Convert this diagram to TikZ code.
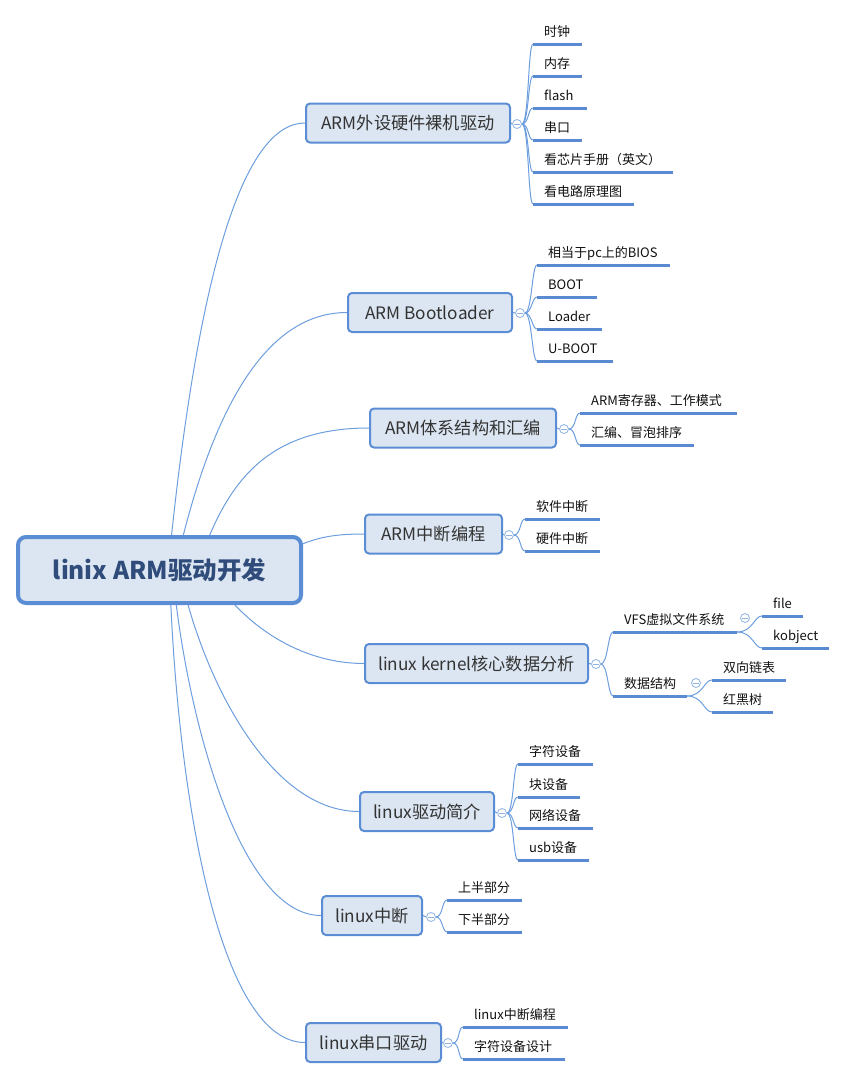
\documentclass[tikz,border=0pt]{standalone}
\usepackage{fontspec}
\setmainfont{Noto Sans CJK SC}
\usetikzlibrary{calc,backgrounds}
\definecolor{boxfill}{HTML}{DCE6F2}
\definecolor{boxline}{HTML}{5B8DD5}
\definecolor{connline}{HTML}{6D9EDD}
\definecolor{ulinecol}{HTML}{5A8AD2}
\definecolor{rootText}{HTML}{2F4C7A}
\definecolor{brText}{HTML}{333333}
\definecolor{leafText}{HTML}{111111}
\definecolor{knobcol}{HTML}{8FB3E3}
\newcommand\leafitem[5]{%
  \coordinate (#1a) at (#2,#4);
  \coordinate (#1b) at (#3,#4);
  \draw[uline] (#1a) -- (#1b);
  \node[leaftext] (#1) at ($(#1a)+(11,-8)$) {#5};}
\newcommand\leafconn[2]{%
  \draw[conn] (#1) .. controls ($(#1)+(7,0)$) and ($(#2)+(-5,0)$) .. (#2);}
\newcommand\subconn[2]{%
  \draw[conn] (#1) .. controls ($(#1)+(16,0)$) and ($(#2)+(-8,0)$) .. (#2);}
\tikzset{
  rootbox/.style={draw=boxline, line width=4pt, fill=boxfill, rounded corners=8pt,
    minimum width=283pt, minimum height=66pt, inner sep=0pt, text=rootText,
    font=\fontsize{24.5}{28}\selectfont\bfseries},
  brbox/.style={draw=boxline, line width=2pt, fill=boxfill, rounded corners=4pt,
    minimum height=39pt, inner sep=0pt, text=brText,
    font=\fontsize{17.2}{20}\selectfont},
  leaftext/.style={anchor=base west, inner sep=0pt, text=leafText,
    font=\fontsize{13}{15}\selectfont},
  uline/.style={draw=ulinecol, line width=3pt},
  conn/.style={draw=connline, line width=1pt},
  knob/.style={circle, draw=knobcol, fill=white, line width=0.8pt, minimum size=9pt,
    inner sep=0pt,
    path picture={\draw[knobcol, line width=0.8pt]
      ([xshift=-2.6pt]path picture bounding box.center) --
      ([xshift=2.6pt]path picture bounding box.center);}},
}
\begin{document}
\begin{tikzpicture}[x=1pt,y=-1pt]
\useasboundingbox (0,0) rectangle (847,1080);
% root
\node[rootbox] (root) at (159.5,570) {linix ARM驱动开发};
% branches
\node[brbox, minimum width=204pt] (b1) at (408,123) {ARM外设硬件裸机驱动};
\node[brbox, minimum width=164pt] (b2) at (430,312.5) {ARM Bootloader};
\node[brbox, minimum width=186pt] (b3) at (463,428) {ARM体系结构和汇编};
\node[brbox, minimum width=137pt] (b4) at (433.5,534) {ARM中断编程};
\node[brbox, minimum width=223pt] (b5) at (476.5,663.5) {linux kernel核心数据分析};
\node[brbox, minimum width=134pt] (b6) at (427,811.5) {linux驱动简介};
\node[brbox, minimum width=100pt] (b7) at (372,915.5) {linux中断};
\node[brbox, minimum width=135pt] (b8) at (373.5,1042.5) {linux串口驱动};
% knobs
\node[knob] (k1) at (517,124) {};
\node[knob] (k2) at (520,313) {};
\node[knob] (k3) at (564,429) {};
\node[knob] (k4) at (509,535) {};
\node[knob] (k5) at (596,664) {};
\node[knob] (k6) at (502,813) {};
\node[knob] (k7) at (431,917) {};
\node[knob] (k8) at (448,1043) {};
\node[knob] (k51) at (745,618) {};
\node[knob] (k52) at (696,683) {};
% leaves branch 1
\leafitem{l11}{533}{582}{44}{时钟}
\leafitem{l12}{533}{582}{76}{内存}
\leafitem{l13}{533}{587}{108}{flash}
\leafitem{l14}{533}{582}{140}{串口}
\leafitem{l15}{533}{673}{172}{看芯片手册（英文）}
\leafitem{l16}{533}{634}{204}{看电路原理图}
% branch 2
\leafitem{l21}{537}{670}{265}{相当于pc上的BIOS}
\leafitem{l22}{537}{597}{297}{BOOT}
\leafitem{l23}{537}{602}{329}{Loader}
\leafitem{l24}{537}{613}{361}{U-BOOT}
% branch 3
\leafitem{l31}{580}{737}{413}{ARM寄存器、工作模式}
\leafitem{l32}{580}{694}{445}{汇编、冒泡排序}
% branch 4
\leafitem{l41}{525}{600}{519}{软件中断}
\leafitem{l42}{525}{600}{551}{硬件中断}
% branch 5
\leafitem{l51}{613}{737}{632}{VFS虚拟文件系统}
\leafitem{l52}{613}{687}{696}{数据结构}
\leafitem{l511}{762}{803}{616}{file}
\leafitem{l512}{762}{829}{648}{kobject}
\leafitem{l521}{712}{786}{680}{双向链表}
\leafitem{l522}{712}{773}{712}{红黑树}
% branch 6
\leafitem{l61}{518}{593}{764}{字符设备}
\leafitem{l62}{518}{580}{797}{块设备}
\leafitem{l63}{518}{593}{828}{网络设备}
\leafitem{l64}{518}{589}{860}{usb设备}
% branch 7
\leafitem{l71}{447}{522}{900}{上半部分}
\leafitem{l72}{447}{522}{932}{下半部分}
% branch 8
\leafitem{l81}{463}{568}{1027}{linux中断编程}
\leafitem{l82}{463}{565}{1059}{字符设备设计}
% connectors
\begin{scope}[on background layer]
\coordinate (s1) at (168,570);
\coordinate (s2) at (175,570);
\coordinate (s3) at (200,560);
\coordinate (s4) at (280,555);
\coordinate (s5) at (215,580);
\coordinate (s6) at (183,585);
\coordinate (s7) at (174,585);
\coordinate (s8) at (170,585);
\draw[conn] (s1) .. controls (197,273) and (243,123) .. (b1.west);
\draw[conn] (s2) .. controls (213,399) and (270,312.5) .. (b2.west);
\draw[conn] (s3) .. controls (226,488) and (262,428) .. (b3.west);
\draw[conn] (s4) .. controls (310,538) and (330,534) .. (b4.west);
\draw[conn] (s5) .. controls (245,625) and (300,663.5) .. (b5.west);
\draw[conn] (s6) .. controls (205,680) and (270,811.5) .. (b6.west);
\draw[conn] (s7) .. controls (188,720) and (240,915.5) .. (b7.west);
\draw[conn] (s8) .. controls (178,800) and (220,1042.5) .. (b8.west);
\foreach \i in {1,...,8} {\draw[conn] (b\i.east) -- (k\i.west);}
\foreach \j in {1,...,6} {\leafconn{k1.east}{l1\j a}}
\foreach \j in {1,...,4} {\leafconn{k2.east}{l2\j a}}
\foreach \j in {1,2} {\leafconn{k3.east}{l3\j a}}
\foreach \j in {1,2} {\leafconn{k4.east}{l4\j a}}
\foreach \j in {1,2} {\leafconn{k5.east}{l5\j a}}
\foreach \j in {1,...,4} {\leafconn{k6.east}{l6\j a}}
\foreach \j in {1,2} {\leafconn{k7.east}{l7\j a}}
\foreach \j in {1,2} {\leafconn{k8.east}{l8\j a}}
\subconn{l51b}{l511a}
\subconn{l51b}{l512a}
\subconn{l52b}{l521a}
\subconn{l52b}{l522a}
\end{scope}
\end{tikzpicture}
\end{document}
